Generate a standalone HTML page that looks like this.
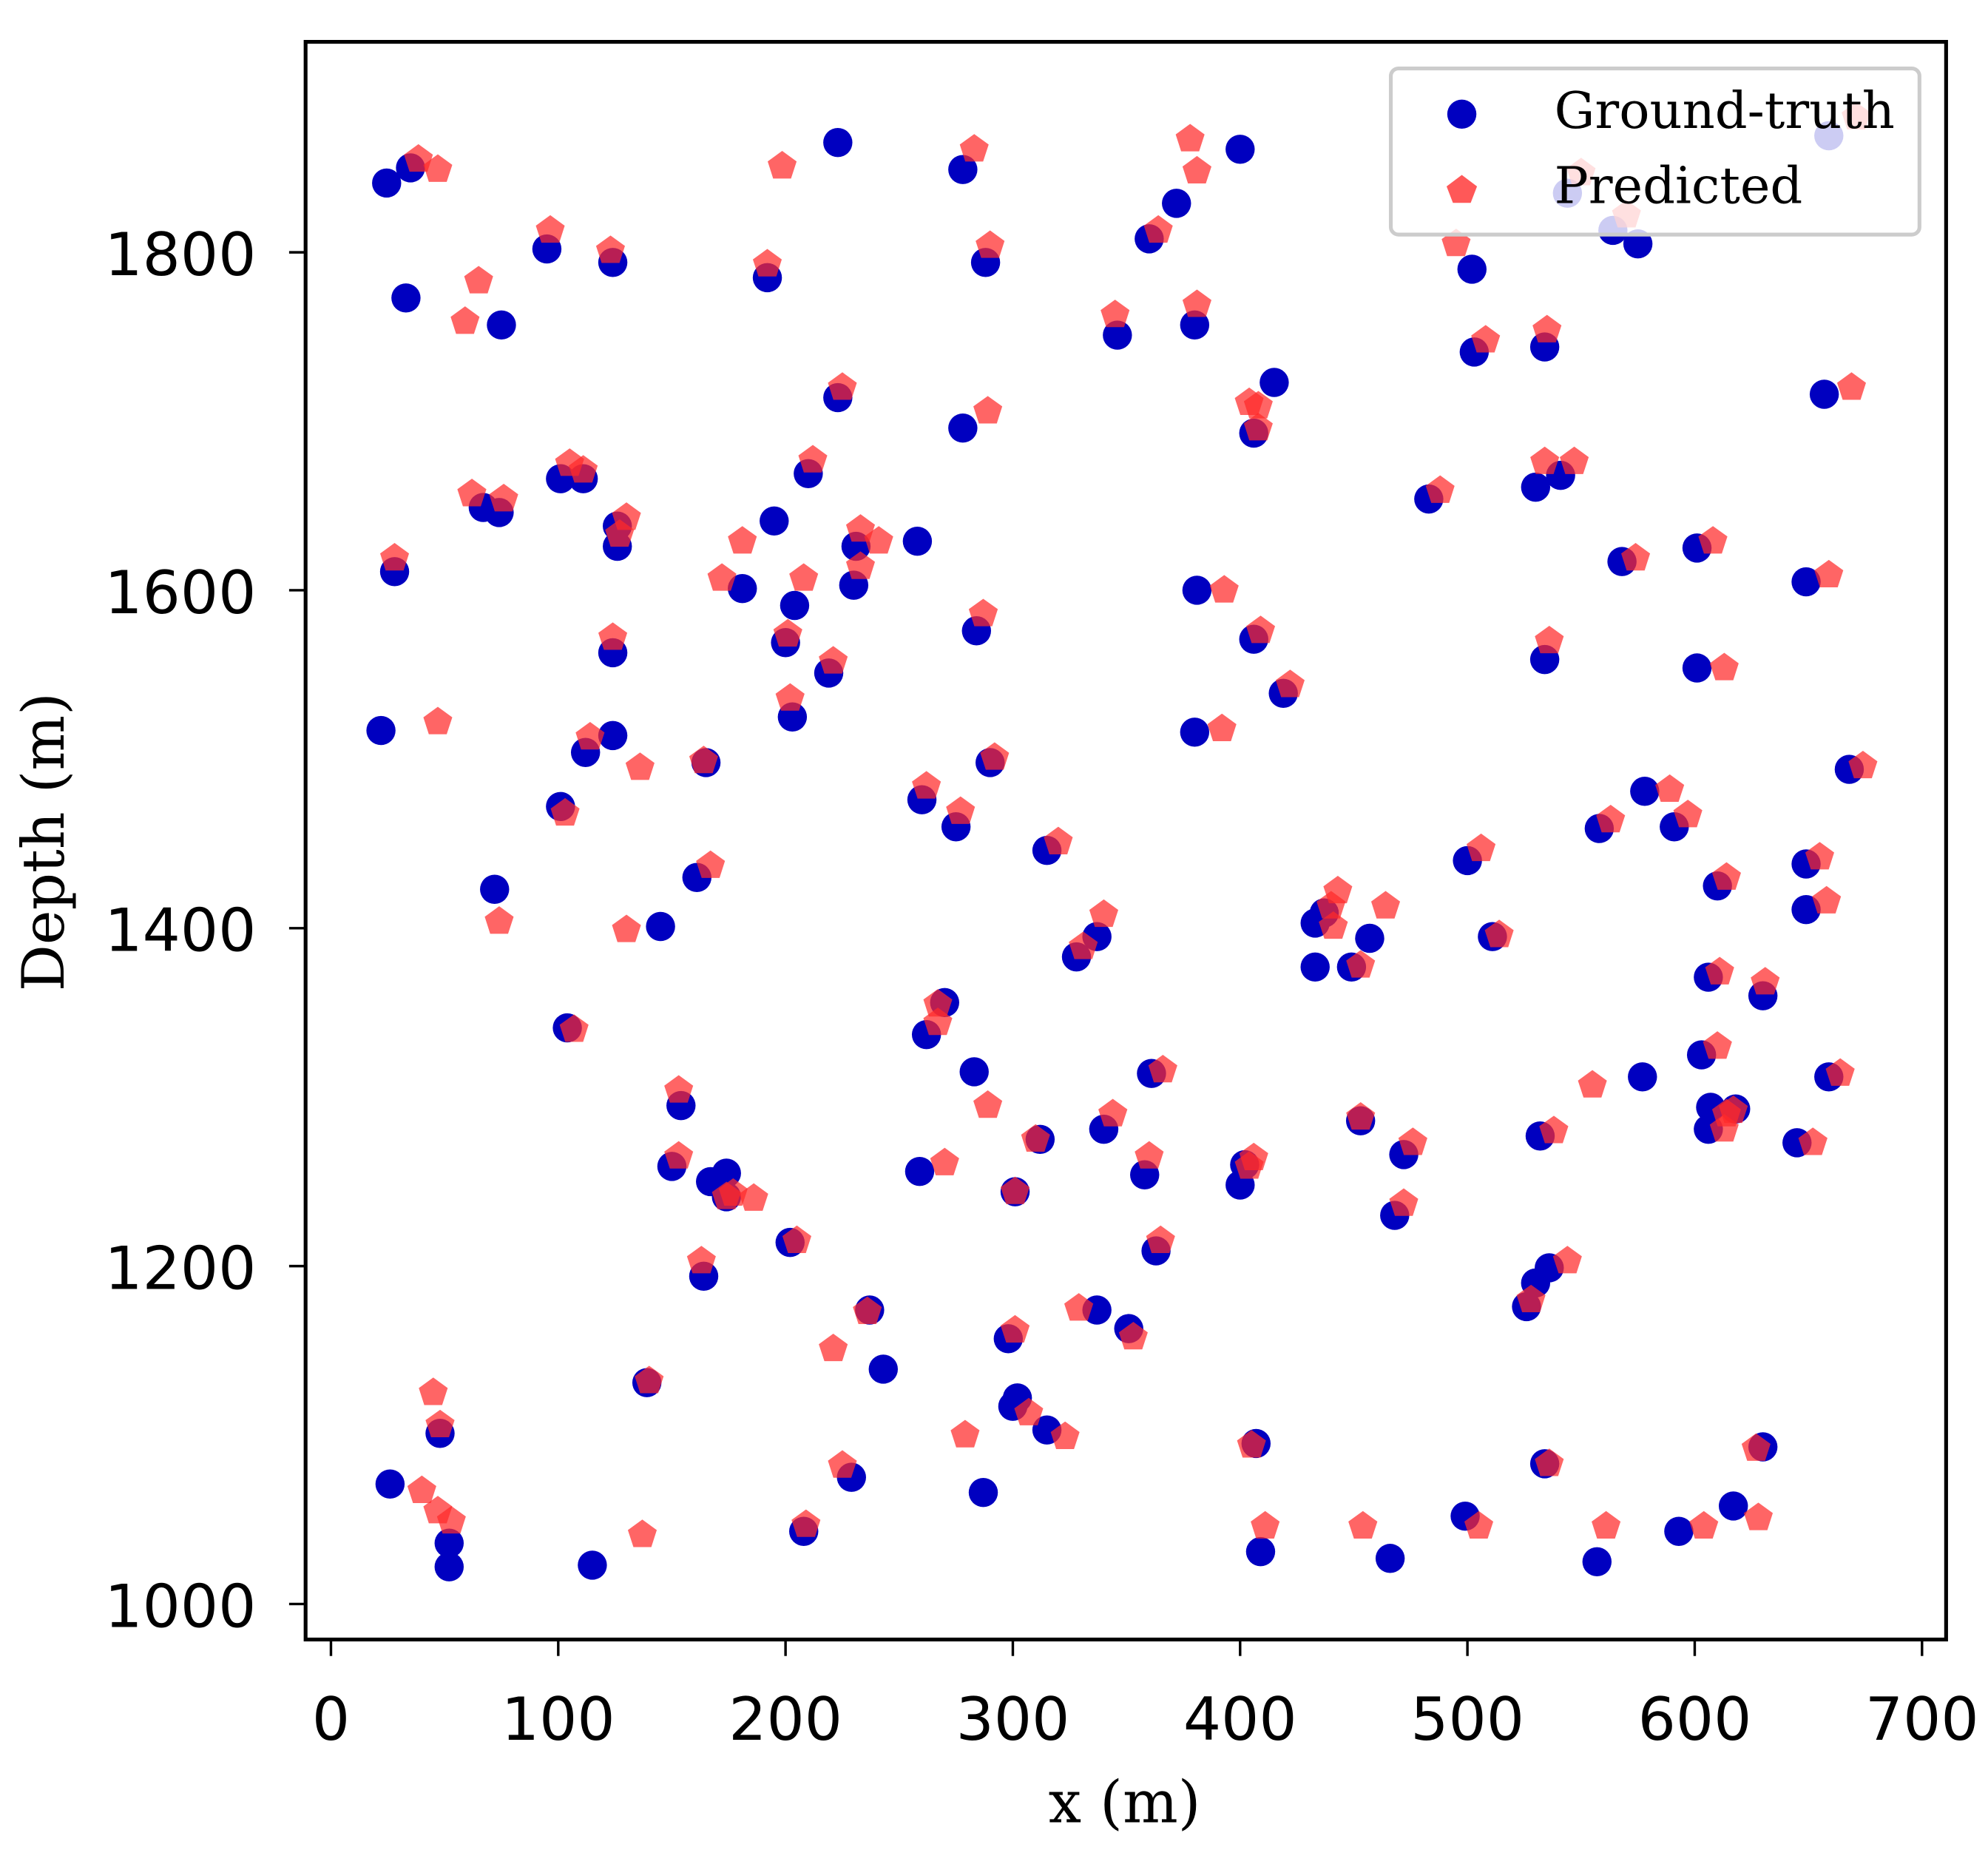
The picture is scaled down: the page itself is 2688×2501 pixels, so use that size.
<!DOCTYPE html>
<html><head><meta charset="utf-8"><style>
html,body{margin:0;padding:0;background:#fff;}
svg{display:block;}
.tick{font-family:"DejaVu Sans","Liberation Sans",sans-serif;font-size:47px;fill:#000;}
.lab{font-family:"DejaVu Serif","Liberation Serif",serif;font-size:46px;fill:#000;}
.leg{font-family:"DejaVu Serif","Liberation Serif",serif;font-size:40px;fill:#000;}
</style></head><body>
<svg id="chart" width="2688" height="2501" viewBox="0 0 1568 1459" xmlns="http://www.w3.org/2000/svg">
<rect x="0" y="0" width="1568" height="1459" fill="#fff"/>
<g id="marks"></g>
<rect x="241" y="33" width="1294" height="1260" fill="none" stroke="#000" stroke-width="3"/>
<g id="axes"></g>
<g>
<rect x="1097" y="54" width="417" height="131" rx="6" fill="rgba(255,255,255,0.8)" stroke="#cccccc" stroke-width="3"/>
<circle cx="1153" cy="90" r="11.5" fill="#0000c0"/>
<text class="leg" x="1226" y="101">Ground-truth</text>
<polygon points="1153,138 1165,147 1160,160 1146,160 1141,147" fill="#ff3b3b" fill-opacity="0.85"/>
<text class="leg" x="1226" y="160">Predicted</text>
</g>
<text class="lab" x="887" y="1437" text-anchor="middle">x (m)</text>
<text class="lab" transform="translate(50,664) rotate(-90)" text-anchor="middle">Depth (m)</text>
</svg>
<script>
const gtX=[24.5,35,33,75,95,124,192,223,278,288,372,360,400,346,380,502,503,534,415,406,657,544,564,575,659,278,223,210,101,111,67,74,126,126,195,231,230,258,28,181,204,200,124,203,219,284,381,406,419,534,530,541,483,568,601,649,601,22,124,112,165,290,380,668,101,72,161,145,260,275,315,337,328,433,437,433,449,457,500,511,578,558,591,610,649,649,606,630,603,607,606,618,645,659,577,532,453,472,468,536,530,526,534,499,617,593,630,557,466,409,407,400,402,358,363,361,340,312,301,283,270,262,259,154,150,167,174,174,104,164,202,237,243,337,351,298,302,300,315,229,287,208,139,115,48,52,52,26];
const gtY=[1841,1850,1773,1757,1802,1794,1785,1865,1849,1794,1829,1808,1861,1751,1757,1790,1741,1744,1723,1693,1716,1835,1813,1805,1869,1696,1714,1669,1666,1666,1649,1646,1638,1626,1641,1626,1603,1629,1611,1601,1591,1569,1563,1525,1551,1576,1600,1571,1539,1559,1661,1668,1654,1617,1625,1605,1554,1517,1514,1504,1498,1498,1516,1494,1472,1423,1430,1401,1476,1460,1446,1395,1383,1403,1409,1377,1377,1394,1440,1395,1481,1459,1460,1425,1438,1411,1371,1360,1325,1294,1281,1293,1273,1312,1312,1277,1286,1266,1230,1199,1190,1176,1083,1052,1058,1043,1093,1025,1027,1031,1095,1248,1260,1254,1209,1314,1281,1275,1244,1315,1356,1337,1256,1295,1259,1250,1255,1241,1341,1194,1214,1174,1139,1174,1163,1157,1122,1117,1103,1075,1066,1043,1131,1023,1101,1036,1022,1071];
const prX=[38.5,47,65,59,96.5,123,192,198.5,283,290,364,378,381,345,381,495,508,535,550,570,671,669,404,408,408,289,225,212,105,111,62,76,130,127,181,233,241,233,28,172,208,201,202,221,124,287,393,409,422,536,534,547,488,574,608,659,613,47,114,136,164,292,392,674,103,74,167,130,262,277,320,340,331,443,440,441,464,453,506,514,589,563,597,614,655,658,611,631,610,614,613,617,652,664,555,538,453,476,472,544,528,536,505,628,604,627,561,454,411,405,406,404,360,365,366,344,310,301,289,267,267,270,153,153,174,177,186,107,163,205,236,221,329,353,301,307,323,225,279,209,140,137,45,48,40,47,53];
const prY=[1855,1849,1783,1759,1813,1801,1793,1851,1861,1804,1813,1867,1848,1763,1769,1805,1748,1754,1847,1822,1880,1720,1711,1709,1696,1706,1720,1677,1675,1671,1657,1654,1643,1633,1629,1636,1629,1614,1619,1607,1607,1574,1536,1558,1572,1586,1600,1576,1544,1570,1676,1676,1659,1619,1629,1609,1554,1522,1513,1495,1499,1501,1518,1496,1468,1404,1437,1399,1484,1469,1451,1408,1389,1422,1413,1401,1413,1378,1447,1396,1482,1464,1467,1430,1442,1416,1374,1368,1330,1290,1281,1292,1273,1314,1307,1280,1288,1273,1237,1203,1180,1083,1046,1051,1046,1092,1046,1046,1046,1094,1264,1259,1265,1215,1316,1290,1275,1244,1295,1355,1344,1261,1304,1265,1241,1243,1240,1340,1203,1215,1173,1151,1175,1158,1162,1113,1099,1082,1100,1047,1132,1041,1125,1106,1067,1055,1049];
const xTicks=[0,100,200,300,400,500,600,700];
const yTicks=[1000,1200,1400,1600,1800];
const NS='http://www.w3.org/2000/svg';
function sx(v){return 261+v*(1516-261)/700;}
function sy(v){return 1265-(v-1000)*(1265-199)/800;}
function mk(tag,attrs,parent){const e=document.createElementNS(NS,tag);for(const k in attrs)e.setAttribute(k,attrs[k]);parent.appendChild(e);return e;}
const marks=document.getElementById('marks');
const axes=document.getElementById('axes');
for(let i=0;i<gtX.length;i++){
  const c=mk('circle',{cx:sx(gtX[i]),cy:sy(gtY[i]),r:11.5,fill:'#0000c0'},marks);
  
  
}
for(let i=0;i<prX.length;i++){
  const cx=sx(prX[i]),cy=sy(prY[i]);let pts=[];
  for(let k=0;k<5;k++){const a=-Math.PI/2+k*2*Math.PI/5;pts.push((cx+12*Math.cos(a)).toFixed(1)+','+(cy+12*Math.sin(a)).toFixed(1));}
  const p=mk('polygon',{points:pts.join(' '),fill:'#ff2a2a','fill-opacity':0.72},marks);
  
  
}
xTicks.forEach(v=>{
  const l=mk('line',{x1:sx(v),x2:sx(v),y1:1293,y2:1306,stroke:'#000','stroke-width':2},axes);
  
  
  const t=mk('text',{x:sx(v),y:1372,'text-anchor':'middle',class:'tick'},axes);
  t.textContent=v;
  
  
});
yTicks.forEach(v=>{
  const l=mk('line',{x1:228,x2:241,y1:sy(v),y2:sy(v),stroke:'#000','stroke-width':2},axes);
  
  
  const t=mk('text',{x:202,y:sy(v)+18,'text-anchor':'end',class:'tick'},axes);
  t.textContent=v;
  
  
});
</script>
</body></html>
